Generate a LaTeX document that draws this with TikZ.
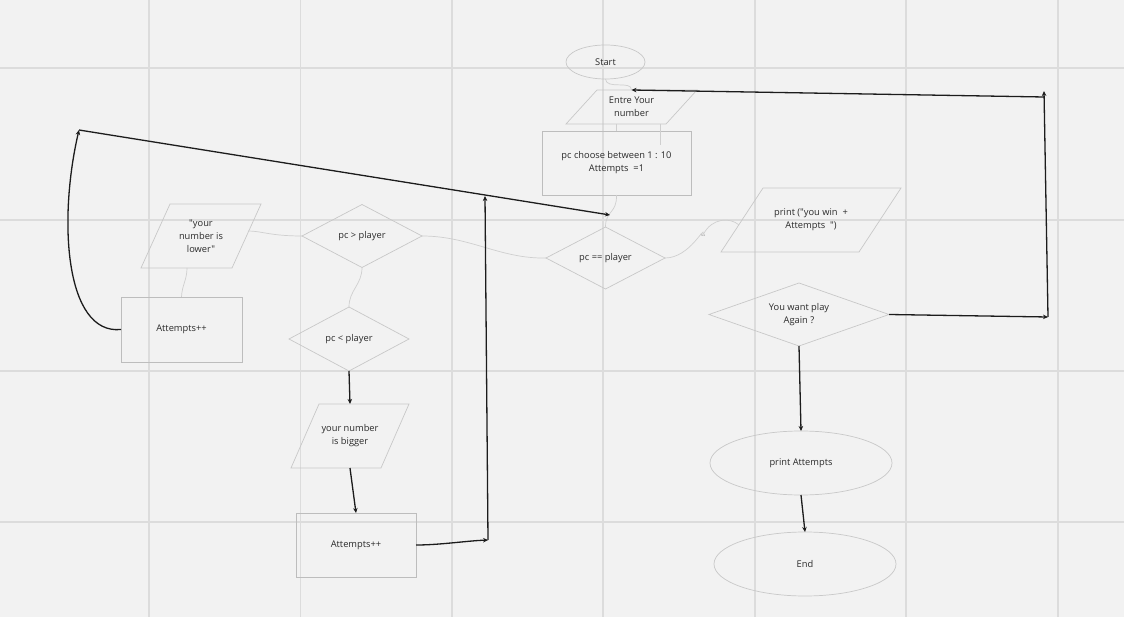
\documentclass[tikz,border=0pt]{standalone}
\usepackage{fontspec}
\setmainfont{Open Sans}[Ligatures=TeXOff]
\usetikzlibrary{shapes.geometric,arrows.meta}
\definecolor{bg}{HTML}{F2F2F2}
\definecolor{gridc}{HTML}{DCDCDC}
\definecolor{shp}{HTML}{C8C8C8}
\definecolor{rectc}{HTML}{BDBDBD}
\definecolor{txt}{HTML}{2A2A2A}
\definecolor{ink}{HTML}{1C1C1C}
\definecolor{conn}{HTML}{CFCFCF}
\newcommand\drawpara[2]{\draw[shapeline] ([xshift=#2]#1.north west) -- (#1.north east) -- ([xshift=-#2]#1.south east) -- (#1.south west) -- cycle;}
\begin{document}
\begin{tikzpicture}[x=1pt,y=-1pt,
  every node/.style={font=\fontsize{9.3}{13}\selectfont, text=txt, align=center, inner sep=0pt, outer sep=0pt},
  shapeline/.style={draw=shp, line width=0.7pt},
  oval/.style={ellipse, shapeline},
  dia/.style={diamond, shape aspect=3, shapeline},
  box/.style={rectangle, draw=rectc, line width=0.8pt},
  para/.style={rectangle},
  gridline/.style={draw=gridc, line width=1.3pt},
  conline/.style={draw=conn, line width=0.7pt},
  arr/.style={draw=ink, line width=1.3pt, -{Stealth[length=5pt,width=4.5pt]}}
]
\useasboundingbox (0,0) rectangle (1124,617);
\fill[bg] (0,0) rectangle (1124,617);
% grid
\foreach \gx in {149,300.5,452,603,755,906,1058} \draw[gridline] (\gx,0) -- (\gx,617);
\foreach \gy in {68,220,371,522} \draw[gridline] (0,\gy) -- (1124,\gy);

% nodes
\node[oval, minimum width=79pt, minimum height=34pt] (start) at (605.5,62) {Start};
\node[para, minimum width=131pt, minimum height=34pt] (entre) at (631.5,107) {Entre Your\\number};
\drawpara{entre}{31}
\node[box, minimum width=149pt, minimum height=64pt] (choose) at (616.5,163) {pc choose between 1 : 10\\Attempts\ \ =1};
\node[dia, minimum width=119pt, minimum height=62pt] (pceq) at (605.5,258) {pc == player};
\node[para, minimum width=180pt, minimum height=64pt] (print) at (811,220) {print ("you win\ \ +\\Attempts\ \ ")};
\drawpara{print}{42}
\node[dia, minimum width=180pt, minimum height=63pt] (again) at (799,314.5) {You want play\\Again ?};
\node[oval, minimum width=182pt, minimum height=64pt] (patt) at (801,463) {print Attempts};
\node[oval, minimum width=182pt, minimum height=64pt] (end) at (805,564) {End};
\node[dia, minimum width=120pt, minimum height=63pt] (pcgt) at (362,236) {pc > player};
\node[para, minimum width=120pt, minimum height=64pt] (lower) at (201,236) {"your\\number is\\lower"};
\drawpara{lower}{29}
\node[box, minimum width=121pt, minimum height=65pt] (att1) at (181.5,329.5) {Attempts++};
\node[dia, minimum width=120pt, minimum height=64pt] (pclt) at (349,339) {pc < player};
\node[para, minimum width=118pt, minimum height=64pt] (bigger) at (350,436) {your number\\is bigger};
\drawpara{bigger}{28}
\node[box, minimum width=120pt, minimum height=64pt] (att2) at (356,545) {Attempts++};
\node[font=\fontsize{3}{3}\selectfont, text=gray] (yes) at (703,235) {Yes};

% coordinates
\coordinate (c1) at (1048,317);
\coordinate (c2) at (1044,91);
\coordinate (c3) at (1044,97);
\coordinate (c4) at (79,130);
\coordinate (c5) at (610,215);
\coordinate (c6) at (488,540);
\coordinate (c7) at (485,196);
\coordinate (pin) at (739,225);
\coordinate (lowin) at (248,231);

% gray connectors
\draw[conline] (start.south) .. controls (606,90) and (632,80) .. (entre.north);
\draw[conline] (choose.north |- entre.south) -- (choose.north);
\draw[conline] ([xshift=28.5]entre.south) -- ++(0,21);
\draw[conline] (choose.south) .. controls (617,214) and (605.5,210) .. (pceq.north);
\draw[conline] (pceq.east) .. controls (690,258) and (705,224) .. (yes) .. controls (712,218) and (730,217) .. (pin);
\draw[conline] (pcgt.east) .. controls (470,236) and (500,259) .. (pceq.west);
\draw[conline] (pcgt.west) .. controls (270,236) and (262,231) .. (lowin);
\draw[conline] ([xshift=-14]lower.south) .. controls (187,280) and (182,285) .. (att1.north);
\draw[conline] (pcgt.south) .. controls (362,285) and (349,290) .. (pclt.north);

% black arrows
\draw[arr] (pclt.south) -- (bigger.north);
\draw[arr] (bigger.south) -- (att2.north);
\draw[arr] (att2.east) .. controls (440,545) and (465,541) .. (c6);
\draw[arr] (c6) -- (c7);
\draw[arr] (att1.west) .. controls (65,335) and (58,220) .. (c4);
\draw[arr] (c4) -- (c5);
\draw[arr] (again.south) -- (patt.north);
\draw[arr] (patt.south) -- (end.north);
\draw[arr] (again.east) -- (c1);
\draw[arr] (c1) -- (c2);
\draw[arr] (c3) -- (entre.north);
\end{tikzpicture}
\end{document}
